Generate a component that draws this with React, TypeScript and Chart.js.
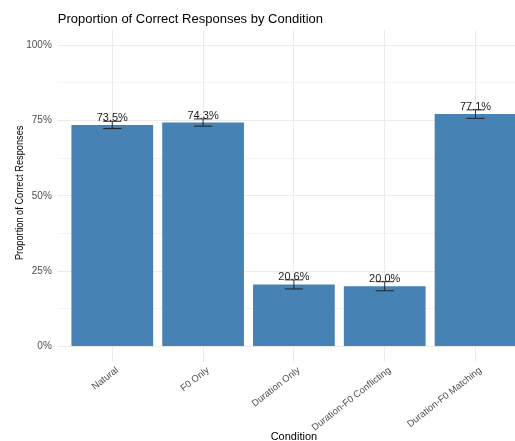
import React, { useEffect, useRef } from "react";
import { Chart, registerables } from "chart.js";

Chart.register(...registerables);

const categories = [
  "Natural",
  "F0 Only",
  "Duration Only",
  "Duration-F0 Conflicting",
  "Duration-F0 Matching",
];
const proportions = [73.5, 74.3, 20.6, 20.0, 77.1];
const standardErrors = [1.2, 1.2, 1.5, 1.5, 1.4];
const yTickValues = [0, 12.5, 25, 37.5, 50, 62.5, 75, 87.5, 100];
const yLabeledTicks = [0, 25, 50, 75, 100];
const chartTitle = "Proportion of Correct Responses by Condition";
const xTitle = "Condition";
const yTitle = "Proportion of Correct Responses";

const FONT = "'Liberation Sans', Arial, sans-serif";

const overlay = {
  id: "overlay",
  afterDatasetsDraw(chart: any) {
    const { ctx } = chart;
    const x = chart.scales.x;
    const y = chart.scales.y;
    ctx.save();
    ctx.font = `11px ${FONT}`;
    ctx.fillStyle = "#1a1a1a";
    ctx.textAlign = "center";
    ctx.textBaseline = "alphabetic";
    proportions.forEach((v, i) => {
      ctx.fillText(v.toFixed(1) + "%", x.getPixelForValue(i), y.getPixelForValue(v) - 4);
    });
    const halfCap = x.getPixelForValue(0.1) - x.getPixelForValue(0);
    ctx.strokeStyle = "#1a1a1a";
    ctx.lineWidth = 0.9;
    proportions.forEach((v, i) => {
      const cx = x.getPixelForValue(i);
      const top = y.getPixelForValue(v + standardErrors[i]);
      const bot = y.getPixelForValue(v - standardErrors[i]);
      ctx.beginPath();
      ctx.moveTo(cx, top);
      ctx.lineTo(cx, bot);
      ctx.moveTo(cx - halfCap, top);
      ctx.lineTo(cx + halfCap, top);
      ctx.moveTo(cx - halfCap, bot);
      ctx.lineTo(cx + halfCap, bot);
      ctx.stroke();
    });
    ctx.restore();
  },
  afterDraw(chart: any) {
    const { ctx, chartArea } = chart;
    ctx.save();
    ctx.fillStyle = "#000000";
    ctx.font = `13px ${FONT}`;
    ctx.textAlign = "left";
    ctx.textBaseline = "alphabetic";
    ctx.fillText(chartTitle, chartArea.left, 23);

    ctx.font = `11px ${FONT}`;
    ctx.textAlign = "center";
    ctx.fillText(xTitle, (chartArea.left + chartArea.right) / 2, 440);

    ctx.translate(23, (chartArea.top + chartArea.bottom) / 2 - 3);
    ctx.scale(1, 0.84);
    ctx.rotate(-Math.PI / 2);
    ctx.fillText(yTitle, 0, 0);
    ctx.restore();
  },
};

export default function App() {
  const canvasRef = useRef<HTMLCanvasElement | null>(null);

  useEffect(() => {
    const canvas = canvasRef.current;
    if (!canvas) return;
    const chart = new Chart(canvas, {
      type: "bar",
      data: {
        datasets: [
          {
            data: categories.map((_, i) => ({ x: i, y: proportions[i] })),
            backgroundColor: "#4682B4",
            barPercentage: 0.9,
            categoryPercentage: 1.0,
          },
        ],
      },
      options: {
        responsive: false,
        animation: false,
        layout: { padding: { top: 30, left: 0, right: 0, bottom: 0 } },
        plugins: {
          legend: { display: false },
          tooltip: { enabled: false },
          title: { display: false },
        },
        scales: {
          x: {
            type: "linear",
            min: -0.6,
            max: 4.6,
            offset: false,
            afterBuildTicks: (s: any) => {
              s.ticks = categories.map((_, i) => ({ value: i }));
            },
            afterFit: (s: any) => {
              s.height = 79.4;
            },
            ticks: {
              autoSkip: false,
              minRotation: 38,
              maxRotation: 38,
              padding: 3,
              labelOffset: 5,
              color: "#4d4d4d",
              font: { family: FONT, size: 9.5 },
              callback: (v: any) => categories[v] ?? "",
            },
            grid: { color: "#ebebeb", lineWidth: 1, drawTicks: false, offset: false },
            border: { display: false },
          },
          y: {
            type: "linear",
            min: -5,
            max: 105,
            afterBuildTicks: (s: any) => {
              s.ticks = yTickValues.map((v) => ({ value: v }));
            },
            afterFit: (s: any) => {
              s.width = 57.8;
            },
            ticks: {
              padding: 6,
              color: "#4d4d4d",
              font: { family: FONT, size: 10 },
              callback: (v: any) => (yLabeledTicks.includes(v) ? v + "%" : ""),
            },
            grid: {
              color: "#ebebeb",
              drawTicks: false,
              lineWidth: (c: any) => (c.tick && yLabeledTicks.includes(c.tick.value) ? 1 : 0.6),
            },
            border: { display: false },
          },
        },
      },
      plugins: [overlay],
    });
    return () => chart.destroy();
  }, []);

  return (
    <div
      style={{
        position: "fixed",
        left: 0,
        top: 0,
        width: 515,
        height: 441,
        overflow: "hidden",
        background: "#ffffff",
      }}
    >
      <canvas ref={canvasRef} width={530} height={441} style={{ display: "block" }} />
    </div>
  );
}
